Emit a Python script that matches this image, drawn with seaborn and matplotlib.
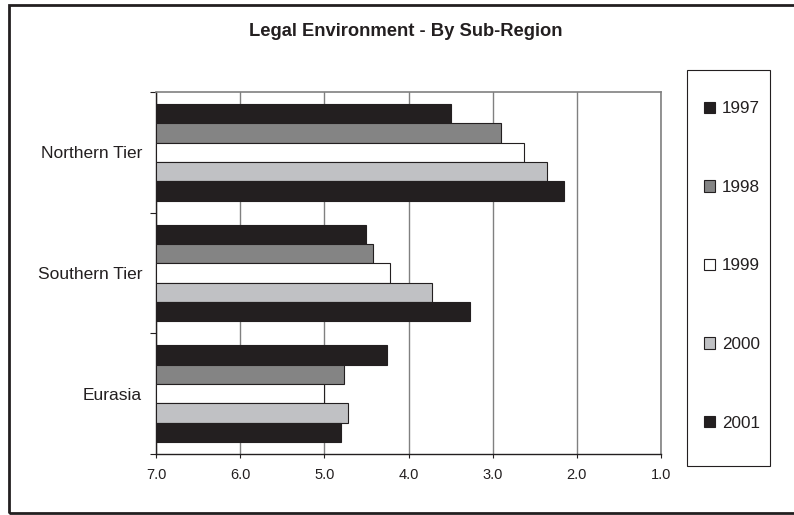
import matplotlib
matplotlib.use("Agg")
import matplotlib.pyplot as plt
from matplotlib.patches import Rectangle
from matplotlib.ticker import FixedLocator, FuncFormatter
import seaborn as sns
import pandas as pd

# Scores by sub-region (scale 7 = worst, 1 = best)
regions = ["Northern Tier", "Southern Tier", "Eurasia"]
years = ["1997", "1998", "1999", "2000", "2001"]
scores_1997 = [3.5, 4.5, 4.25]
scores_1998 = [2.9, 4.42, 4.77]
scores_1999 = [2.63, 4.22, 5.0]
scores_2000 = [2.36, 3.72, 4.72]
scores_2001 = [2.15, 3.27, 4.8]
x_ticks = [7.0, 6.0, 5.0, 4.0, 3.0, 2.0, 1.0]
colors = ["#231f20", "#848484", "#ffffff", "#c0c1c4", "#231f20"]

SCALE_MAX = 7.0
INK = "#231f20"
W, H = 794, 515

series = [scores_1997, scores_1998, scores_1999, scores_2000, scores_2001]
rows = []
for yr, vals in zip(years, series):
    for reg, v in zip(regions, vals):
        # bars grow from the worst score (7) toward the actual score
        rows.append({"Region": reg, "Year": yr, "Score": v, "Bar": SCALE_MAX - v})
df = pd.DataFrame(rows)

sns.set_theme(style="white")
plt.rcParams["font.family"] = ["Liberation Sans", "DejaVu Sans"]

fig = plt.figure(figsize=(W / 100, H / 100), dpi=100)
ax = fig.add_axes([156 / W, 61 / H, 505 / W, 362 / H])

sns.barplot(
    data=df, y="Region", x="Bar", hue="Year", order=regions, hue_order=years,
    palette=dict(zip(years, colors)), saturation=1, orient="h",
    edgecolor=INK, linewidth=0.8, ax=ax, zorder=3,
)

ax.set_xlim(0, SCALE_MAX - min(x_ticks))
ax.xaxis.set_major_locator(FixedLocator([SCALE_MAX - t for t in x_ticks]))
ax.xaxis.set_major_formatter(FuncFormatter(lambda x, _: f"{SCALE_MAX - x:.1f}"))
ax.grid(axis="x", color="#808080", linewidth=1.0, zorder=0)
ax.set_axisbelow(True)

ax.set_ylim(2.5, -0.5)
ax.set_yticks(range(len(regions)))
ax.set_yticklabels(regions)
ax.yaxis.set_minor_locator(FixedLocator([-0.5, 0.5, 1.5, 2.5]))
ax.tick_params(axis="y", which="major", length=0, pad=10, labelsize=12.5, colors=INK)
ax.tick_params(axis="y", which="minor", left=True, length=4.5, width=0.8, color=INK)
ax.tick_params(axis="x", which="major", bottom=True, length=3, width=0.8, color=INK,
               labelsize=10.5, labelcolor=INK, pad=7)
ax.set_xlabel("")
ax.set_ylabel("")

for side in ("left", "bottom"):
    ax.spines[side].set_color(INK)
    ax.spines[side].set_linewidth(1.0)
for side in ("top", "right"):
    ax.spines[side].set_color("#808080")
    ax.spines[side].set_linewidth(1.2)

handles, labels = ax.get_legend_handles_labels()
ax.legend_.remove()
leg = fig.legend(
    handles, labels, loc="center left", bbox_to_anchor=(704 / W, 1 - 266 / H),
    frameon=False, borderpad=0, borderaxespad=0,
    labelspacing=3.72, handlelength=0.65, handleheight=0.65, handletextpad=0.4,
    fontsize=12.3,
)
for t in leg.get_texts():
    t.set_color(INK)

# legend box
fig.patches.append(Rectangle((687 / W, 1 - 466 / H), 83 / W, 396 / H,
                             transform=fig.transFigure, fill=False,
                             edgecolor=INK, linewidth=0.8))

fig.text(406 / W, 1 - 32 / H, "Legal Environment - By Sub-Region",
         ha="center", va="center", fontsize=13.2, fontweight="bold", color=INK)

# outer chart frame
fig.patches.append(Rectangle((9 / W, 2 / H), 800 / W, 508 / H,
                             transform=fig.transFigure, fill=False,
                             edgecolor=INK, linewidth=2.0))

fig.savefig("out.png", dpi=100)
